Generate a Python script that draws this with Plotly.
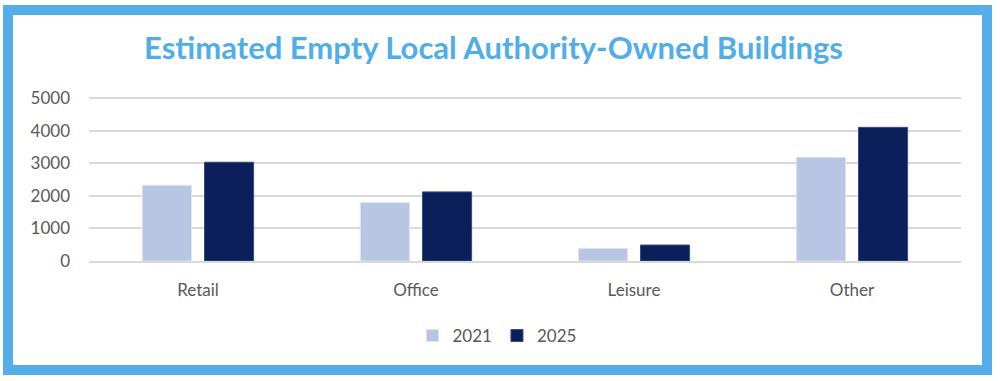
import plotly.graph_objects as go

categories = ["Retail", "Office", "Leisure", "Other"]
values_2021 = [2320, 1790, 380, 3180]
values_2025 = [3030, 2120, 490, 4100]
y_ticks = [0, 1000, 2000, 3000, 4000, 5000]

W, H = 1000, 381
L, R, T, B = 89, 39, 96, 120
pw, ph = W - L - R, H - T - B
y_top = 5000 * (ph / (ph - 2))  # leave room so the 5000 gridline is drawn

def px_x(x):
    return (x - L) / pw

def px_y(y):
    return (H - B - y) / ph

fig = go.Figure()
fig.add_trace(go.Bar(name="2021", x=categories, y=values_2021,
                     marker=dict(color="#B8C6E3", line=dict(color="#DCE3F2", width=1))))
fig.add_trace(go.Bar(name="2025", x=categories, y=values_2025,
                     marker=dict(color="#0B1F5B", line=dict(color="#3A4C80", width=1))))

font_family = "Lato, Carlito, Calibri, sans-serif"

fig.update_layout(
    width=W, height=H,
    margin=dict(l=L, r=R, t=T, b=B),
    paper_bgcolor="white", plot_bgcolor="white",
    barmode="group", bargap=0.43, bargroupgap=0.21,
    title=dict(text="<b>Estimated Empty Local Authority-Owned Buildings</b>",
               x=0.4935, xref="container", xanchor="center",
               y=1 - 48 / H, yref="container", yanchor="middle",
               font=dict(family=font_family, size=31, color="#4FAEEA")),
    font=dict(family=font_family, size=17, color="#595959"),
    xaxis=dict(showgrid=False, showline=True, linecolor="#D9D9D9", linewidth=1.5,
               ticks="", ticklabelstandoff=13,
               tickfont=dict(size=17, color="#595959")),
    yaxis=dict(range=[0, y_top], tickvals=y_ticks, showgrid=True, gridcolor="#D9D9D9",
               gridwidth=1.5, zeroline=False, showline=False, ticks="",
               ticklabelstandoff=18, tickfont=dict(size=17, color="#595959")),
    legend=dict(orientation="h", x=px_x(497), xanchor="center",
                y=px_y(336), yanchor="middle",
                font=dict(size=17, color="#595959"), itemwidth=30,
                traceorder="normal"),
    showlegend=True,
)

fig.add_shape(type="rect", xref="paper", yref="paper",
              x0=px_x(8), x1=px_x(987), y0=px_y(370), y1=px_y(10),
              line=dict(color="#53AEEA", width=10), fillcolor="rgba(0,0,0,0)",
              layer="above")

fig.write_html("out.html", config={"displayModeBar": False},
               post_script="document.body.style.margin='0';document.body.style.overflow='hidden';")
